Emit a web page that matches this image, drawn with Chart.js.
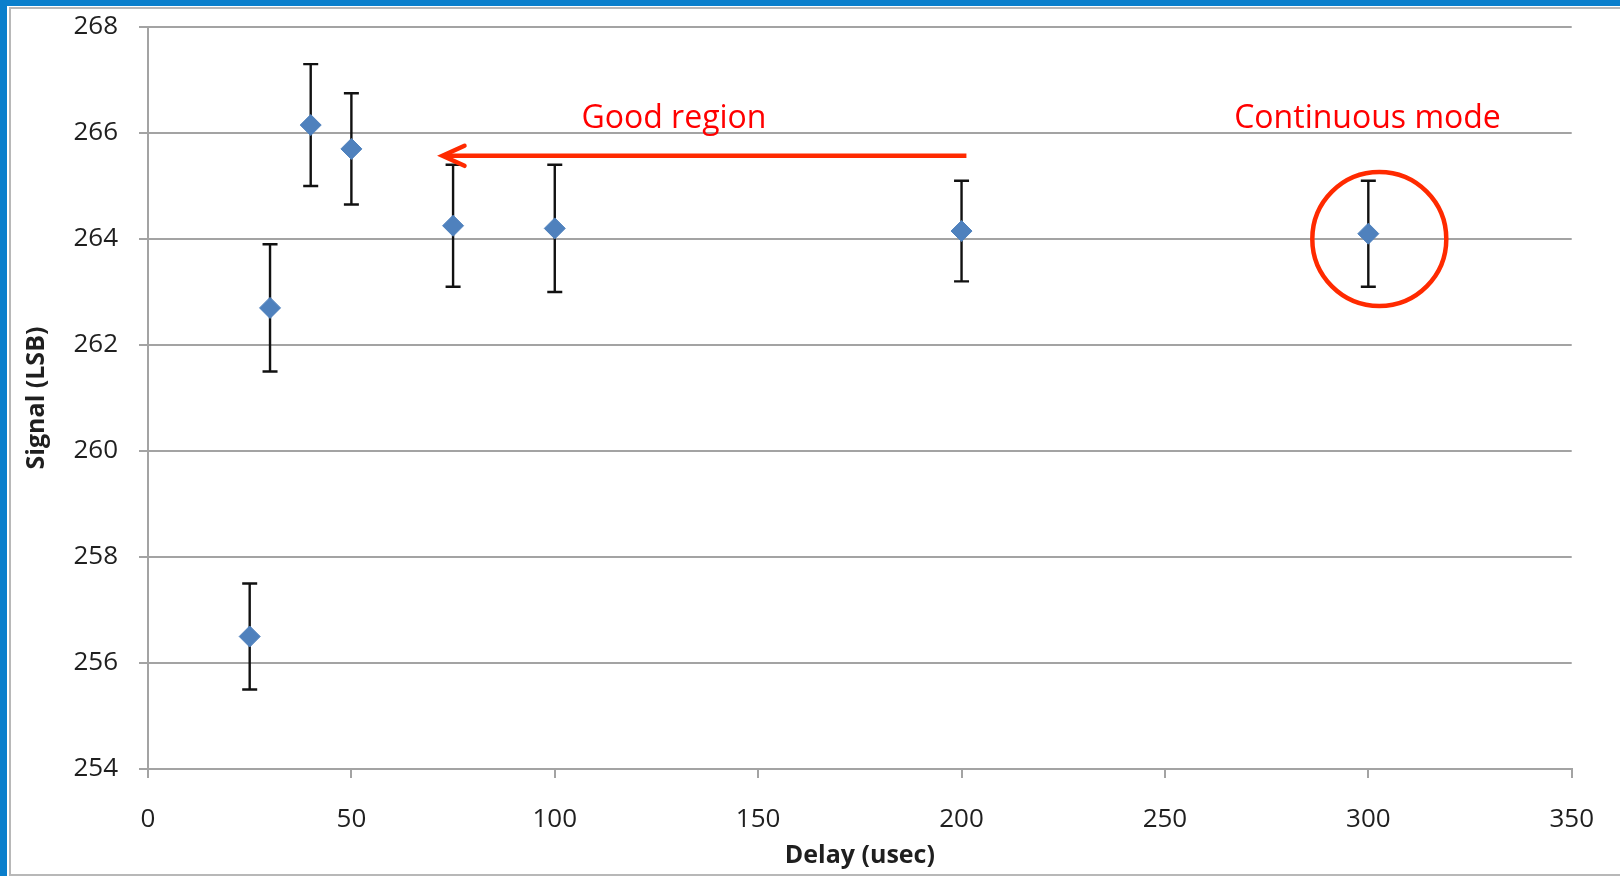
<!DOCTYPE html>
<html>
<head>
<meta charset="utf-8">
<script src="https://cdn.jsdelivr.net/npm/chart.js@4/dist/chart.umd.min.js"></script>
<style>
  html, body { margin: 0; padding: 0; background: #ffffff; overflow: hidden; }
  #stage { position: relative; width: 1620px; height: 876px; overflow: hidden; background: #ffffff; }
  .blue-top { position: absolute; left: 0; top: 0; width: 1620px; height: 6px; background: #0a7fcc; }
  .blue-left { position: absolute; left: 0; top: 0; width: 7px; height: 876px; background: #0a7fcc; }
  .frame { position: absolute; left: 9px; top: 7px; width: 1700px; height: 869px; box-sizing: border-box;
           border: 2px solid #b8b8b8; }
  canvas { position: absolute; left: 0; top: 0; }
</style>
</head>
<body>
<div id="stage">
  <div class="blue-top"></div>
  <div class="blue-left"></div>
  <div class="frame"></div>
  <canvas id="chart" width="1620" height="876"></canvas>
</div>
<script>
// Delay settings (usec) and the measured mean signal (LSB) with its spread
const delays   = [25, 30, 40, 50, 75, 100, 200, 300];
const signal   = [256.5, 262.7, 266.15, 265.7, 264.25, 264.2, 264.15, 264.1];
const errors   = [1.0, 1.2, 1.15, 1.05, 1.15, 1.2, 0.95, 1.0];

// Axis ranges and tick spacing
const xRange = { min: 0, max: 350, step: 50 };
const yRange = { min: 254, max: 268, step: 2 };

const FONT = "'Open Sans', 'Liberation Sans', sans-serif";
const RED_TEXT = '#ff0000';
const RED_MARK = '#ff2a00';

// Vertical error bars with flat caps, drawn beneath the markers
const errorBars = {
  id: 'errorBars',
  beforeDatasetsDraw(chart) {
    const { ctx, scales: { x, y } } = chart;
    ctx.save();
    ctx.strokeStyle = '#111111';
    ctx.lineWidth = 2.4;
    const cap = 7.5;
    delays.forEach((d, i) => {
      const px = x.getPixelForValue(d);
      const top = y.getPixelForValue(signal[i] + errors[i]);
      const bot = y.getPixelForValue(signal[i] - errors[i]);
      ctx.beginPath();
      ctx.moveTo(px, top); ctx.lineTo(px, bot);
      ctx.moveTo(px - cap, top); ctx.lineTo(px + cap, top);
      ctx.moveTo(px - cap, bot); ctx.lineTo(px + cap, bot);
      ctx.stroke();
    });
    ctx.restore();
  }
};

// Callouts: the "Good region" arrow and the ringed continuous-mode point
const callouts = {
  id: 'callouts',
  afterDraw(chart) {
    const { ctx, scales: { x, y } } = chart;
    ctx.save();

    ctx.fillStyle = RED_TEXT;
    ctx.font = `32px ${FONT}`;
    ctx.textAlign = 'center';
    ctx.textBaseline = 'alphabetic';
    ctx.fillText('Good region', x.getPixelForValue(129.3), y.getPixelForValue(266.09));
    ctx.fillText('Continuous mode', x.getPixelForValue(299.8), y.getPixelForValue(266.09));

    // arrow pointing back toward short delays
    const ay = y.getPixelForValue(265.57);
    const ax0 = x.getPixelForValue(201.2);
    const ax1 = x.getPixelForValue(72.4);
    ctx.strokeStyle = RED_MARK;
    ctx.lineWidth = 4.5;
    ctx.lineCap = 'butt';
    ctx.beginPath();
    ctx.moveTo(ax0, ay); ctx.lineTo(ax1 + 2, ay);
    ctx.stroke();
    ctx.lineCap = 'round';
    ctx.lineJoin = 'miter';
    ctx.beginPath();
    ctx.moveTo(ax1 + 22, ay - 10);
    ctx.lineTo(ax1, ay);
    ctx.lineTo(ax1 + 22, ay + 10);
    ctx.stroke();

    // ring around the continuous-mode measurement
    ctx.lineWidth = 4.5;
    ctx.beginPath();
    ctx.arc(x.getPixelForValue(302.7), y.getPixelForValue(264.0), 67, 0, Math.PI * 2);
    ctx.stroke();

    ctx.restore();
  }
};

const axisGray = '#a3a3a3';

new Chart(document.getElementById('chart'), {
  type: 'scatter',
  data: {
    datasets: [{
      label: 'Signal',
      data: delays.map((d, i) => ({ x: d, y: signal[i] })),
      pointStyle: 'rectRot',
      pointRadius: 10.5,
      pointHoverRadius: 10.5,
      backgroundColor: '#4f81bd',
      borderColor: '#4f81bd',
      borderWidth: 1
    }]
  },
  options: {
    responsive: false,
    animation: false,
    events: [],
    layout: { padding: { left: 20, top: 27, right: 48, bottom: 0 } },
    plugins: {
      legend: { display: false },
      tooltip: { enabled: false }
    },
    scales: {
      x: {
        type: 'linear',
        min: xRange.min, max: xRange.max,
        afterFit(scale) { scale.height = 107; },
        ticks: {
          stepSize: xRange.step,
          padding: 26,
          color: '#1f1f1f',
          font: { family: FONT, size: 26 }
        },
        grid: { drawOnChartArea: false, drawTicks: true, tickLength: 9, color: axisGray, lineWidth: 2 },
        border: { display: true, color: axisGray, width: 2 },
        title: {
          display: true,
          text: 'Delay (usec)',
          color: '#1f1f1f',
          font: { family: FONT, size: 25, weight: 'bold' },
          padding: { top: 0, bottom: 5 }
        }
      },
      y: {
        type: 'linear',
        min: yRange.min, max: yRange.max,
        afterFit(scale) {
          scale.width = 128;
          // labels sit well inside the frame, so no extra room above/below is needed
          scale.paddingTop = 0;
          scale.paddingBottom = 0;
        },
        ticks: {
          stepSize: yRange.step,
          padding: 21,
          color: '#1f1f1f',
          font: { family: FONT, size: 26 }
        },
        grid: { drawTicks: true, tickLength: 9, color: axisGray, lineWidth: 2 },
        border: { display: true, color: axisGray, width: 2 },
        title: {
          display: true,
          text: 'Signal (LSB)',
          color: '#1f1f1f',
          font: { family: FONT, size: 25, weight: 'bold' },
          padding: { top: 2, bottom: 0 }
        }
      }
    }
  },
  plugins: [errorBars, callouts]
});
</script>
</body>
</html>
